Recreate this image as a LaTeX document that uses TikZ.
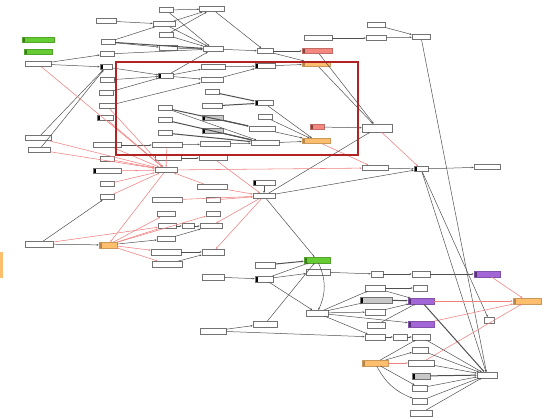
\documentclass[tikz,border=0pt]{standalone}
\usepackage{xcolor}
\usepackage{tikz}
\usetikzlibrary{arrows.meta,positioning}

\definecolor{gfill}{HTML}{66CC33}
\definecolor{rfill}{HTML}{F4877F}
\definecolor{ofill}{HTML}{FDBE6E}
\definecolor{pfill}{HTML}{A366D6}
\definecolor{gbox}{HTML}{C8C8C8}
\definecolor{edgec}{HTML}{505050}
\definecolor{redge}{HTML}{F08080}
\definecolor{framec}{HTML}{B22222}

\begin{document}
\begin{tikzpicture}[
  x=1pt, y=-1pt,
  nd/.style={draw=black!55, fill=white, line width=0.5pt, minimum width=#1, minimum height=5.5pt, inner sep=0pt},
  nd/.default=20pt,
  grn/.style={nd=#1, fill=gfill, draw=gfill!80!black},
  rdb/.style={nd=#1, fill=rfill, draw=rfill!80!black},
  orb/.style={nd=#1, fill=ofill, draw=ofill!80!black},
  pub/.style={nd=#1, fill=pfill, draw=pfill!80!black},
  gyb/.style={nd=#1, fill=gbox},
  blk/.style={path picture={\fill[#1] (path picture bounding box.north west) rectangle ([xshift=2.5pt]path picture bounding box.south west);}},
  blk/.default=black,
  ln/.style={draw=edgec, line width=0.5pt, -{Stealth[length=2.2pt,width=1.8pt]}},
  thk/.style={ln, line width=1pt},
  rl/.style={draw=redge, line width=0.55pt, -{Stealth[length=2.2pt,width=1.8pt]}},
]
\useasboundingbox (0,0) rectangle (550,420);

% top cluster
\node[nd=20pt] (t1) at (106,21) {};
\node[nd=22pt] (t2) at (164,24) {};
\node[nd=14pt] (t3) at (166,10) {};
\node[nd=25pt] (t4) at (212,9) {};
\node[nd=14pt] (t5) at (166,35) {};
\node[nd=14pt] (t6) at (108,42) {};
\node[nd=18pt] (t7) at (168,48) {};
\node[nd=20pt] (t8) at (213,49) {};
\node[nd=14pt] (t9) at (107,54) {};
\node[nd=26pt] (t10) at (38,64) {};
\node[grn=32pt, blk=gfill!60!black] (g1) at (38,40) {};
\node[grn=28pt, blk=gfill!60!black] (g2) at (38,52) {};
\node[nd=12pt, blk] (t11) at (106,67) {};
\node[nd=14pt] (t12) at (107,80) {};
\node[nd=14pt] (t13) at (106,93) {};
\node[nd=16pt] (t14) at (107,106) {};
\node[nd=16pt, blk] (t15) at (105,118) {};
\node[nd=15pt, blk] (t16) at (166,76) {};
\node[nd=24pt] (t17) at (213,67) {};
\node[nd=22pt] (t18) at (212,80) {};
\node[nd=20pt, blk] (t19) at (265,66) {};
\node[nd=16pt] (r5) at (265,51) {};

% framed cluster
\node[nd=14pt] (c1) at (165,108) {};
\node[nd=14pt] (c2) at (165,120) {};
\node[nd=14pt] (c3) at (165,133) {};
\node[nd=14pt] (c4) at (212,92) {};
\node[nd=20pt] (c5) at (212,106) {};
\node[gyb=21pt, blk] (c6) at (213,118) {};
\node[gyb=21pt, blk] (c7) at (213,131) {};
\node[nd=18pt, blk] (c8) at (264,103) {};
\node[nd=14pt] (c9) at (265,117) {};
\node[nd=26pt] (c10) at (262,129) {};
\node[nd=30pt] (c11) at (215,144) {};
\node[nd=28pt] (c12) at (265,143) {};
\node[nd=30pt] (c13) at (167,145) {};
\node[nd=28pt] (c14) at (107,145) {};

% top right
\node[nd=28pt] (r1) at (318,38) {};
\node[nd=20pt] (r2) at (376,38) {};
\node[nd=18pt] (r3) at (376,25) {};
\node[nd=18pt] (r4) at (421,37) {};
\node[rdb=30pt, blk=rfill!50!black] (rd1) at (317,51) {};
\node[orb=28pt, blk=ofill!70!black] (o1) at (316,64) {};
\node[rdb=14pt, blk=rfill!50!black] (rd2) at (317,127) {};
\node[orb=28pt, blk=ofill!70!black] (o2) at (316,141) {};
\node[nd=30pt, minimum height=8pt] (r6) at (377,128) {};
\node[nd=26pt] (r7) at (375,168) {};
\node[nd=14pt, blk] (r8) at (421,169) {};
\node[nd=26pt] (r9) at (487,167) {};

% middle left
\node[nd=26pt] (l1) at (38,138) {};
\node[nd=22pt] (l2) at (39,150) {};
\node[nd=14pt] (l3) at (107,159) {};
\node[nd=26pt] (l4) at (168,158) {};
\node[nd=28pt] (l5) at (213,158) {};
\node[nd=28pt, blk] (l6) at (107,171) {};
\node[nd=22pt] (h1) at (166,170) {};
\node[nd=14pt] (l7) at (107,184) {};
\node[nd=14pt] (l8) at (107,197) {};
\node[nd=30pt] (l9) at (212,187) {};
\node[nd=30pt] (l10) at (167,200) {};
\node[nd=14pt] (l11) at (213,200) {};
\node[nd=22pt, blk] (l12) at (264,183) {};
\node[nd=22pt] (h2) at (264,196) {};

% lower left
\node[nd=28pt] (e1) at (39,244) {};
\node[orb=18pt, blk=ofill!70!black] (o5) at (108,245) {};
\node[nd=18pt] (e2) at (166,214) {};
\node[nd=18pt] (e3) at (167,226) {};
\node[nd=12pt] (e4) at (188,226) {};
\node[nd=22pt] (e5) at (211,226) {};
\node[nd=14pt] (e6) at (213,214) {};
\node[nd=18pt] (e7) at (166,239) {};
\node[nd=30pt] (e8) at (166,252) {};
\node[nd=22pt] (e9) at (213,252) {};
\node[nd=30pt] (e10) at (167,264) {};
\fill[ofill] (0,252) rectangle (3,278);

% lower right
\node[nd=20pt] (b1) at (265,265) {};
\node[nd=22pt] (b2) at (213,277) {};
\node[nd=18pt, blk] (b3) at (264,279) {};
\node[nd=24pt] (b4) at (265,324) {};
\node[nd=26pt] (b5) at (213,331) {};
\node[grn=26pt, blk=gfill!60!black] (g3) at (317,260) {};
\node[nd=24pt] (m1) at (318,272) {};
\node[nd=12pt] (m2) at (377,274) {};
\node[nd=18pt] (m3) at (421,274) {};
\node[pub=26pt, blk=pfill!50!black] (p1) at (487,274) {};
\node[nd=20pt] (m4) at (375,288) {};
\node[nd=14pt] (m5) at (420,288) {};
\node[gyb=32pt, blk] (m6) at (376,300) {};
\node[pub=26pt, blk=pfill!50!black] (p2) at (421,301) {};
\node[orb=28pt, blk=ofill!70!black] (o3) at (527,301) {};
\node[nd=20pt] (m7) at (375,312) {};
\node[nd=22pt] (m8) at (317,313) {};
\node[nd=18pt] (m9) at (376,325) {};
\node[pub=26pt, blk=pfill!50!black] (p3) at (421,324) {};
\node[nd=10pt] (m11) at (489,320) {};
\node[nd=20pt] (m12) at (375,337) {};
\node[nd=14pt] (m13) at (400,337) {};
\node[nd=18pt] (m14) at (421,337) {};
\node[nd=16pt] (m15) at (420,350) {};
\node[orb=26pt, blk=ofill!70!black] (o4) at (375,363) {};
\node[nd=26pt] (m16) at (421,363) {};
\node[gyb=18pt, blk] (m17) at (421,376) {};
\node[nd=20pt] (m18) at (487,375) {};
\node[nd=15pt] (m19) at (420,388) {};
\node[nd=15pt] (m20) at (420,401) {};
\node[nd=22pt] (m21) at (421,413) {};

% top edges
\draw[ln] (t1) -- (t2);
\draw[ln] (t3) -- (t4);
\draw[ln] (t2) -- (t4);
\draw[ln] (t5) -- (t4);
\draw[ln] (t6) -- (t2);
\draw[thk] (t6) -- (t8);
\draw[ln] (t6) -- (t7);
\draw[ln] (t7) -- (t8);
\draw[ln] (t5) -- (t8);
\draw[ln] (t3) -- (t8);
\draw[ln] (t2) -- (t8);
\draw[ln] (t9) -- (t8);
\draw[ln] (t10) -- (t9);
\draw[ln] (t10) -- (t11);
\draw[ln] (t4) -- (r5);
\draw[ln] (t8) -- (r5);
\draw[ln] (r5) -- (rd1);
\draw[ln] (r5) -- (o1);
\draw[ln] (t16) -- (t8);
\draw[ln] (t11) -- (t16);
\draw[ln] (t12) -- (t16);
\draw[ln] (t13) -- (t16);
\draw[ln] (t14) -- (t18);
\draw[ln] (t16) -- (t17);
\draw[ln] (t16) -- (t18);
\draw[ln] (t17) -- (t19);
\draw[ln] (t18) -- (t19);
\draw[ln] (t19) -- (o1);

% framed edges
\draw[thk] (c4) -- (c8);
\draw[thk] (c5) -- (c8);
\draw[thk] (c1) -- (c10);
\draw[ln] (c1) -- (c12);
\draw[thk] (c2) -- (c12);
\draw[thk] (c3) -- (c12);
\draw[thk] (c6) -- (c10);
\draw[thk] (c7) -- (c12);
\draw[ln] (c8) -- (o2);
\draw[ln] (c9) -- (o2);
\draw[ln] (c10) -- (o2);
\draw[ln] (c12) -- (o2);
\draw[ln] (c14) -- (c13);
\draw[ln] (c13) -- (c11);
\draw[ln] (c11) -- (c12);

% top right edges
\draw[ln] (r1) -- (r2);
\draw[ln] (r2) -- (r4);
\draw[ln] (r3) -- (r4);
\draw[ln] (rd2) -- (r6);
\draw[ln] (rd1) -- (r6);
\draw[ln] (o1) -- (r6);
\draw[rl] (r6) -- (r8);
\draw[rl] (o2) -- (r7);
\draw[ln] (r7) -- (r8);
\draw[ln] (r8) -- (r9);
\draw[ln] (h2) -- (r6);
\draw[ln] (h2) -- (r8);
\draw[ln] (r4) -- (m18);
\draw[ln] (r8) -- (m18);
\draw[ln] (r8) -- (m11);

% middle left edges
\draw[ln] (l1) -- (t11);
\draw[ln] (l2) -- (t11);
\draw[rl] (l1) -- (h1);
\draw[rl] (l2) -- (h1);
\draw[rl] (t10) -- (h1);
\draw[rl] (t14) -- (h1);
\draw[rl] (t15) -- (h1);
\draw[rl] (c14) -- (h1);
\draw[rl] (c13) -- (h1);
\draw[rl] (l3) -- (h1);
\draw[rl] (l6) -- (h1);
\draw[rl] (l7) -- (h1);
\draw[rl] (l8) -- (h1);
\draw[rl] (l9) -- (h1);
\draw[rl] (h1) -- (r7);
\draw[ln] (l4) -- (l5);
\draw[rl] (l5) -- (h2);
\draw[rl] (l9) -- (h2);
\draw[rl] (l10) -- (h2);
\draw[rl] (l11) -- (h2);
\draw[ln] (l12) -- (h2);

% lower left edges
\draw[ln] (e1) -- (o5);
\draw[ln] (e1) -- (l8);
\draw[rl] (e1) -- (e3);
\draw[rl] (h1) -- (o5);
\draw[rl] (o5) -- (e2);
\draw[rl] (o5) -- (e3);
\draw[rl] (o5) -- (e6);
\draw[rl] (o5) -- (e8);
\draw[rl] (o5) -- (e10);
\draw[ln] (o5) -- (e7);
\draw[ln] (e3) -- (e4);
\draw[ln] (e4) -- (e5);
\draw[ln] (e7) -- (e5);
\draw[thk] (e8) -- (e9);
\draw[ln] (e10) -- (e9);
\draw[rl] (h2) -- (e9);
\draw[rl] (h2) -- (e5);

% lower right edges
\draw[ln] (b2) -- (b3);
\draw[thk] (b1) -- (g3);
\draw[ln] (b3) -- (m1);
\draw[ln] (b3) -- (g3);
\draw[ln] (h2) -- (g3);
\draw[ln] (b4) -- (g3);
\draw[ln] (g3) to[bend left=25] (m8);
\draw[ln] (b3) -- (m8);
\draw[ln] (b5) -- (b4);
\draw[ln] (b5) -- (m12);
\draw[ln] (m1) -- (m2);
\draw[ln] (m2) -- (m3);
\draw[ln] (m3) -- (p1);
\draw[ln] (m8) -- (m4);
\draw[ln] (m8) -- (m6);
\draw[ln] (m8) -- (m7);
\draw[ln] (m8) -- (p3);
\draw[ln] (m8) -- (m12);
\draw[ln] (m4) -- (m5);
\draw[thk] (m6) -- (p2);
\draw[ln] (m7) -- (p2);
\draw[ln] (m4) -- (p2);
\draw[ln] (m9) -- (p2);
\draw[rl] (p2) -- (o3);
\draw[rl] (p1) -- (o3);
\draw[rl] (p3) -- (o3);
\draw[rl] (m16) -- (o3);
\draw[thk] (p2) -- (m18);
\draw[ln] (m12) -- (m13);
\draw[ln] (m13) -- (m14);
\draw[ln] (m14) -- (m18);
\draw[ln] (m15) -- (m18);
\draw[ln] (m16) -- (m18);
\draw[thk] (m17) -- (m18);
\draw[ln] (m19) -- (m18);
\draw[ln] (m20) -- (m18);
\draw[ln] (m21) -- (m18);
\draw[rl] (o4) -- (m16);
\draw[ln] (o4) -- (m15);
\draw[ln] (o4) -- (m14);
\draw[ln] (o4) -- (m19);
\draw[ln] (o4) to[bend right=20] (m20);

% highlight frame
\draw[framec, line width=1.6pt] (116,62) rectangle (358,155);

\end{tikzpicture}
\end{document}
